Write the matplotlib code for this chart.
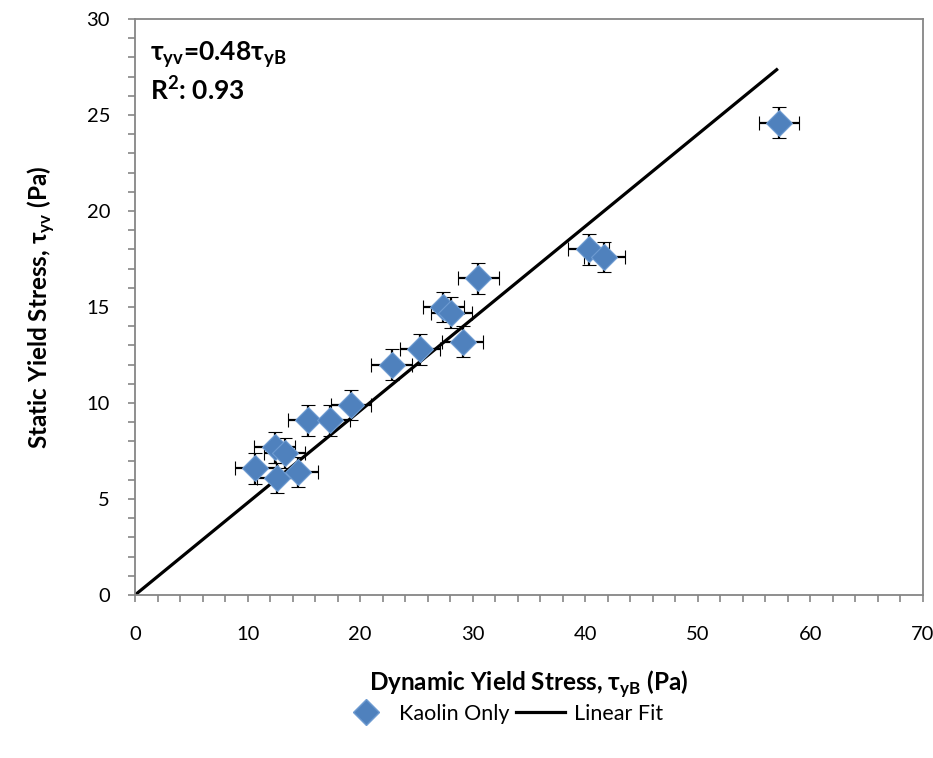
import numpy as np
import matplotlib
matplotlib.use('Agg')
import matplotlib.pyplot as plt
from matplotlib.ticker import MultipleLocator
from matplotlib.lines import Line2D

plt.rcParams['font.family'] = ['Lato', 'DejaVu Sans']
plt.rcParams['mathtext.fontset'] = 'custom'
plt.rcParams['mathtext.rm'] = 'Lato'
plt.rcParams['mathtext.bf'] = 'Lato:bold'

# data
dyn_stress = [10.7, 12.4, 13.3, 12.6, 14.5, 15.4, 17.3, 19.2, 22.8, 25.3,
              27.4, 28.1, 29.1, 30.5, 40.3, 41.7, 57.2]
static_stress = [6.6, 7.7, 7.4, 6.1, 6.4, 9.1, 9.1, 9.9, 12.0, 12.8,
                 15.0, 14.7, 13.2, 16.5, 18.0, 17.6, 24.6]
x_err = [1.8] * len(dyn_stress)
y_err = [0.8] * len(static_stress)
slope = 0.48
fit_x = [0, 57]
fit_y = [slope * v for v in fit_x]

fig = plt.figure(figsize=(9.33, 7.58), dpi=100)
ax = fig.add_axes([135/933, 1-595/758, 788/933, 576/758])

ax.plot(fit_x, fit_y, color='black', lw=2.3, zorder=2)
ax.errorbar(dyn_stress, static_stress, xerr=x_err, yerr=y_err, fmt='D',
            ms=13, mfc='#4F81BD', mec='#6E9BD1', mew=0.8,
            ecolor='black', elinewidth=1.6, capsize=5, capthick=1.6, zorder=3)

ax.set_xlim(0, 70)
ax.set_ylim(0, 30)
ax.xaxis.set_major_locator(MultipleLocator(10))
ax.xaxis.set_minor_locator(MultipleLocator(2))
ax.yaxis.set_major_locator(MultipleLocator(5))
ax.yaxis.set_minor_locator(MultipleLocator(1))
ax.tick_params(which='both', direction='out', length=5, width=1.2, color='#868686',
               labelsize=14.5)
ax.tick_params(axis='x', pad=17)
ax.tick_params(axis='y', pad=13)
for s in ax.spines.values():
    s.set_color('#868686')
    s.set_linewidth(1.3)

ax.set_xlabel(r'Dynamic Yield Stress, τ$_{\mathbf{yB}}$ (Pa)', fontsize=17.5, fontweight='bold', labelpad=19)
ax.set_ylabel(r'Static Yield Stress, τ$_{\mathbf{yv}}$ (Pa)', fontsize=17.5, fontweight='bold', labelpad=21)

ax.text(0.019, 0.965, r'τ$_{\mathbf{yv}}$=0.48τ$_{\mathbf{yB}}$', transform=ax.transAxes,
        fontsize=19, fontweight='bold', va='top', ha='left')
ax.text(0.019, 0.903, r'R$^{\mathbf{2}}$: 0.93', transform=ax.transAxes,
        fontsize=19, fontweight='bold', va='top', ha='left')

handles = [Line2D([], [], marker='D', ls='none', ms=13, mfc='#4F81BD', mec='#6E9BD1'),
           Line2D([], [], color='black', lw=2.3)]
fig.legend(handles, ['Kaolin Only', 'Linear Fit'], loc='center',
           bbox_to_anchor=(502/933, 1-714/758), ncol=2, frameon=False,
           fontsize=15.5, handlelength=2.3, columnspacing=0.3, handletextpad=0.4)

fig.savefig('out.png', dpi=100)
